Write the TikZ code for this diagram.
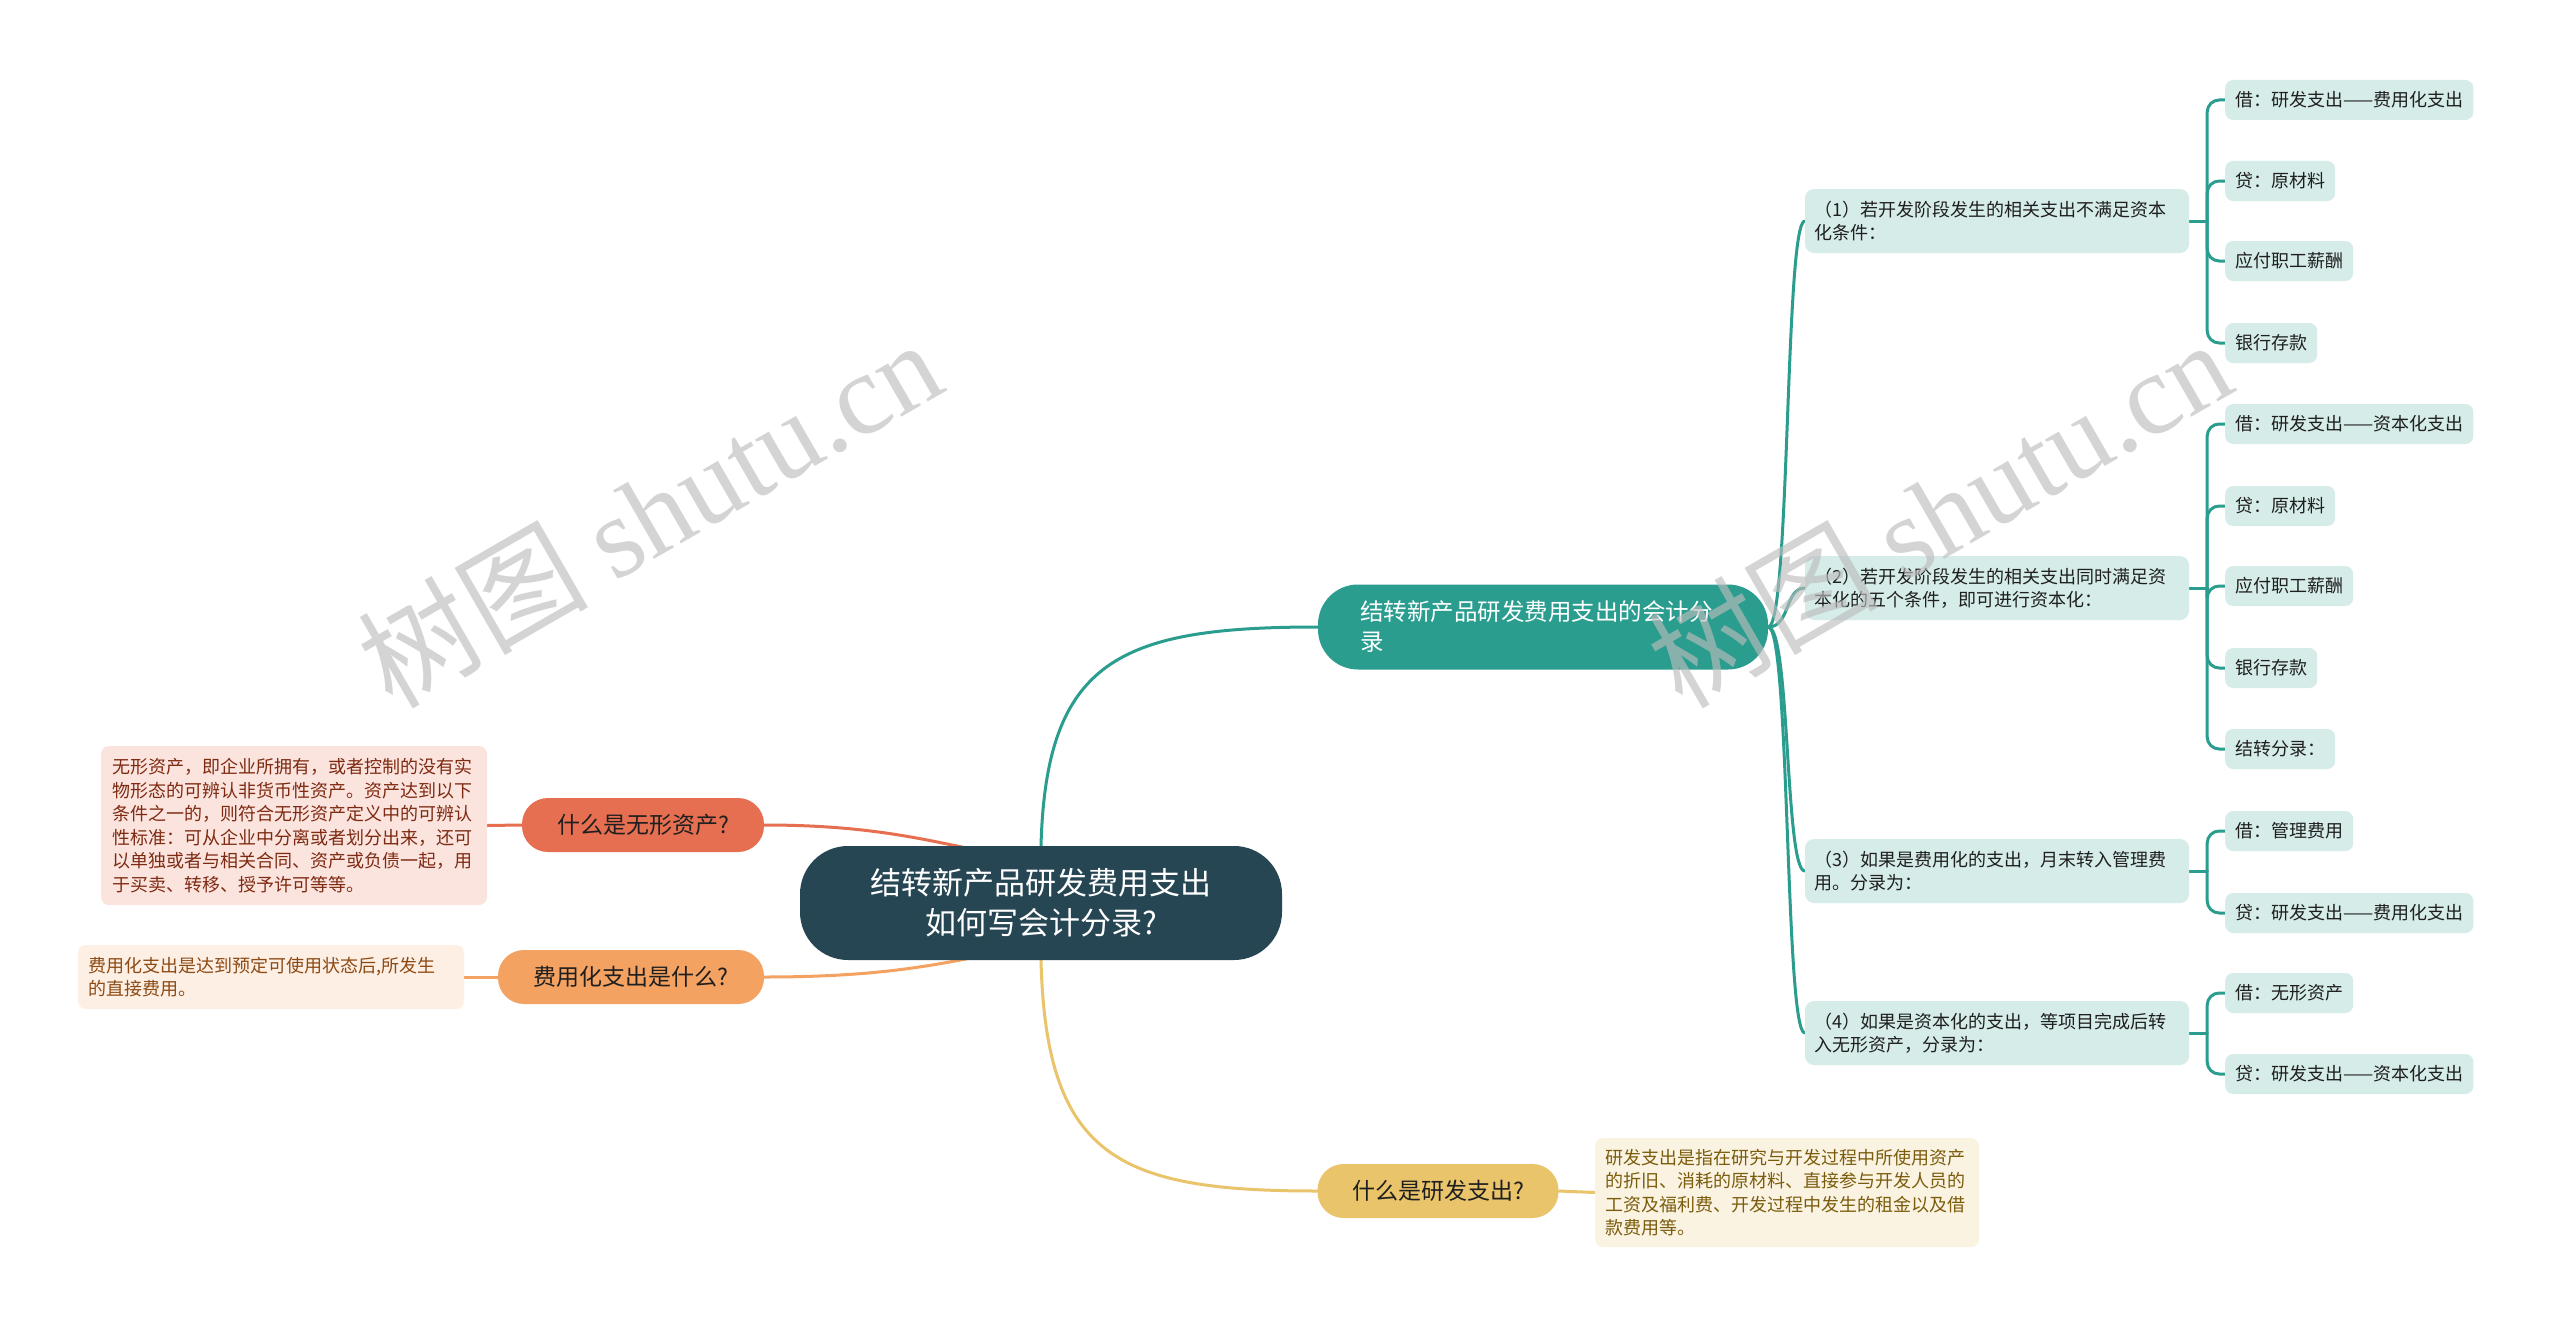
\documentclass[tikz,border=0pt]{standalone}
\usepackage{fontspec}
\setmainfont{Noto Sans CJK SC}
\newfontfamily\wmlat{Liberation Serif}
\usetikzlibrary{calc}
\pgfdeclarelayer{bg}
\pgfsetlayers{bg,main}
\definecolor{rootc}{HTML}{264653}
\definecolor{tealc}{HTML}{2A9D8F}
\definecolor{subc}{HTML}{D5ECE9}
\definecolor{redc}{HTML}{E76F51}
\definecolor{orac}{HTML}{F4A261}
\definecolor{yelc}{HTML}{E9C46A}
\definecolor{rnotef}{HTML}{FCE4DE}
\definecolor{rnotet}{HTML}{7E2A12}
\definecolor{onotef}{HTML}{FDEFE4}
\definecolor{onotet}{HTML}{8C4A14}
\definecolor{ynotef}{HTML}{FBF3E2}
\definecolor{ynotet}{HTML}{7A5C0C}
\definecolor{darktext}{HTML}{1F1F1F}
\definecolor{wmc}{HTML}{BDBDBD}
\newcommand{\myfs}[2]{\fontsize{#1}{#2}\selectfont}
\begin{document}
\begin{tikzpicture}[x=1pt,y=-1pt,
 conn/.style={line width=3pt, line cap=round},
 rootbox/.style={rectangle, rounded corners=48pt, fill=rootc, text=white, align=center, minimum width=482pt, minimum height=114pt, font=\myfs{31}{40}},
 tealbox/.style={rectangle, rounded corners=40pt, fill=tealc, text=white, align=left, text width=366pt, inner xsep=42pt, minimum height=85pt, font=\myfs{23.5}{30}},
 pill/.style={rectangle, rounded corners=26pt, minimum height=54pt, text=darktext, font=\myfs{23}{28}, inner xsep=0pt},
 subbox/.style={rectangle, rounded corners=9pt, fill=subc, text=darktext, align=left, text width=366pt, inner xsep=9pt, minimum height=64pt, font=\myfs{18}{23}},
 leaf/.style={rectangle, rounded corners=8pt, fill=subc, text=darktext, inner xsep=10pt, minimum height=40pt, font=\myfs{18}{22}, anchor=west},
 note/.style={rectangle, rounded corners=8pt, align=left, font=\myfs{18}{23.5}},
 wm/.style={text=wmc, opacity=0.65, font=\myfs{115}{115}, rotate=30, inner sep=0pt}
]
\path[use as bounding box] (0,0) rectangle (2560,1327);

% central and main topics
\node[rootbox] (root) at (1041,903) {结转新产品研发费用支出\\如何写会计分录?};
\node[tealbox] (b1) at (1543,627) {结转新产品研发费用支出的会计分\\录};
\node[pill, fill=yelc, minimum width=241pt] (yq) at (1438,1191) {什么是研发支出?};
\node[pill, fill=redc, minimum width=242pt] (rq) at (643,825) {什么是无形资产?};
\node[pill, fill=orac, minimum width=266pt] (oq) at (631,977) {费用化支出是什么?};

% notes
\node[note, fill=rnotef, text=rnotet, text width=364pt, inner xsep=11pt, minimum height=159pt] (rn) at (294,825.5) {无形资产，即企业所拥有，或者控制的没有实\\物形态的可辨认非货币性资产。资产达到以下\\条件之一的，则符合无形资产定义中的可辨认\\性标准：可从企业中分离或者划分出来，还可\\以单独或者与相关合同、资产或负债一起，用\\于买卖、转移、授予许可等等。};
\node[note, fill=onotef, text=onotet, text width=366pt, inner xsep=10pt, minimum height=64pt] (on) at (271,977) {费用化支出是达到预定可使用状态后,所发生\\的直接费用。};
\node[note, fill=ynotef, text=ynotet, text width=364pt, inner xsep=10pt, minimum height=109pt] (yn) at (1787,1192.5) {研发支出是指在研究与开发过程中所使用资产\\的折旧、消耗的原材料、直接参与开发人员的\\工资及福利费、开发过程中发生的租金以及借\\款费用等。};

% sub topics
\node[subbox] (s1) at (1997,221) {（1）若开发阶段发生的相关支出不满足资本\\化条件：};
\node[subbox] (s2) at (1997,588) {（2）若开发阶段发生的相关支出同时满足资\\本化的五个条件，即可进行资本化：};
\node[subbox] (s3) at (1997,871) {（3）如果是费用化的支出，月末转入管理费\\用。分录为：};
\node[subbox] (s4) at (1997,1033) {（4）如果是资本化的支出，等项目完成后转\\入无形资产，分录为：};

% leaves
\node[leaf] (l11) at (2225,100) {借：研发支出——费用化支出};
\node[leaf] (l12) at (2225,181) {贷：原材料};
\node[leaf] (l13) at (2225,261) {应付职工薪酬};
\node[leaf] (l14) at (2225,343) {银行存款};
\node[leaf] (l21) at (2225,424) {借：研发支出——资本化支出};
\node[leaf] (l22) at (2225,506) {贷：原材料};
\node[leaf] (l23) at (2225,586) {应付职工薪酬};
\node[leaf] (l24) at (2225,668) {银行存款};
\node[leaf] (l25) at (2225,749) {结转分录：};
\node[leaf] (l31) at (2225,831) {借：管理费用};
\node[leaf] (l32) at (2225,913) {贷：研发支出——费用化支出};
\node[leaf] (l41) at (2225,993) {借：无形资产};
\node[leaf] (l42) at (2225,1074) {贷：研发支出——资本化支出};

\coordinate (rj1) at ($(root.north)+(-56,6)$);
\coordinate (rj2) at ($(root.south)+(-56,-5)$);

\begin{pgfonlayer}{bg}
 \fill[white] (0,0) rectangle (2560,1327);
 \draw[conn, tealc] (root.north) .. controls +(5,-186) and +(-198,0) .. (b1.west);
 \draw[conn, yelc] (root.south) .. controls +(5,198) and +(-198,0) .. (yq.west);
 \draw[conn, redc] (rq.east) .. controls +(106,0) and +(-60,-12) .. (rj1);
 \draw[conn, orac] (oq.east) .. controls +(106,0) and +(-60,12) .. (rj2);
 \draw[conn, redc] (rn.east) -- (rq.west);
 \draw[conn, orac] (on.east) -- (oq.west);
 \draw[conn, yelc] (yq.east) -- (yn.west);
 \foreach \s in {s1,s2,s3,s4}{
   \draw[conn, tealc] (b1.east) .. controls +(22,0) and +(-20,0) .. (\s.west);
   \draw[conn, tealc] (\s.east) -- ++(18,0) coordinate (j\s);
 }
 \foreach \l in {l11,l12,l13,l14}{\draw[conn, tealc, rounded corners=12pt] (js1) |- (\l.west);}
 \foreach \l in {l21,l22,l23,l24,l25}{\draw[conn, tealc, rounded corners=12pt] (js2) |- (\l.west);}
 \foreach \l in {l31,l32}{\draw[conn, tealc, rounded corners=12pt] (js3) |- (\l.west);}
 \foreach \l in {l41,l42}{\draw[conn, tealc, rounded corners=12pt] (js4) |- (\l.west);}
\end{pgfonlayer}

% watermarks
\node[wm] (wm1) at (649,512) {树图 {\wmlat shutu.cn}};
\node[wm] (wm2) at (1939,512) {树图 {\wmlat shutu.cn}};
\end{tikzpicture}
\end{document}
